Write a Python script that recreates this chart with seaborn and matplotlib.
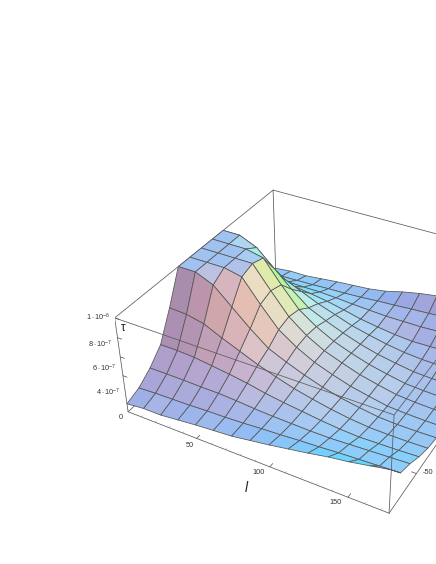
import numpy as np
import matplotlib
matplotlib.use("Agg")
import matplotlib.pyplot as plt
import seaborn as sns
from mpl_toolkits.mplot3d import proj3d

l_values = [0, 12.5, 25, 37.5, 50, 62.5, 75, 87.5, 100, 112.5, 125, 137.5, 150, 162.5, 175]
y_values = [-84, -72, -60, -48, -36, -24, -12, 0, 12, 24, 36, 48, 60, 72, 84]

# tau in units of 1e-7, rows follow l_values, columns y_values (clipped at the 1e-6 roof)
tau = [
    [0.9, 1.4, 2.4, 3.8, 6.7, 10, 10, 10, 10, 10, 6.7, 3.8, 2.4, 1.4, 0.9],
    [1.1, 1.5, 2.4, 3.8, 6.6, 10, 10, 10, 10, 10, 6.6, 3.8, 2.4, 1.5, 1.1],
    [1.1, 1.55, 2.4, 3.7, 6.2, 9.2, 10, 10, 10, 9.2, 6.2, 3.7, 2.4, 1.55, 1.1],
    [1.3, 1.6, 2.35, 3.45, 5.3, 7.5, 9.6, 10, 9.6, 7.5, 5.3, 3.45, 2.35, 1.6, 1.3],
    [1.5, 1.7, 2.35, 3.2, 4.5, 5.8, 7.3, 7.7, 7.3, 5.8, 4.5, 3.2, 2.35, 1.7, 1.5],
    [1.65, 1.75, 2.25, 2.9, 3.7, 4.3, 5.2, 5.5, 5.2, 4.3, 3.7, 2.9, 2.25, 1.75, 1.65],
    [1.8, 1.85, 2.1, 2.5, 3.05, 3.45, 3.9, 4.05, 3.9, 3.45, 3.05, 2.5, 2.1, 1.85, 1.8],
    [2.1, 2.0, 2.0, 2.2, 2.45, 2.7, 2.9, 3.0, 2.9, 2.7, 2.4, 2.05, 2.0, 2.0, 2.1],
    [2.4, 2.1, 1.95, 1.95, 2.0, 2.05, 2.2, 2.3, 2.2, 2.05, 1.95, 1.75, 1.9, 2.1, 2.6],
    [2.75, 2.25, 1.9, 1.7, 1.6, 1.55, 1.6, 1.65, 1.6, 1.55, 1.55, 1.5, 1.9, 2.25, 3.0],
    [3.1, 2.35, 1.9, 1.5, 1.3, 1.2, 1.18, 1.2, 1.18, 1.2, 1.25, 1.35, 1.9, 2.35, 3.3],
    [3.5, 2.5, 2.0, 1.4, 1.1, 0.9, 0.8, 0.8, 0.8, 0.9, 1.1, 1.4, 2.0, 2.5, 3.6],
    [3.8, 2.6, 2.1, 1.45, 1.05, 0.8, 0.68, 0.65, 0.68, 0.8, 1.05, 1.45, 2.1, 2.6, 3.8],
    [4.2, 2.7, 2.2, 1.5, 1.05, 0.8, 0.62, 0.58, 0.62, 0.8, 1.05, 1.5, 2.2, 2.7, 4.2],
    [4.6, 2.8, 2.3, 1.6, 1.1, 0.85, 0.62, 0.55, 0.62, 0.85, 1.1, 1.6, 2.3, 2.8, 4.6],
]

l_ticks = [50, 100, 150]
l_tick_at = [52, 99, 148]
l_minor = [10, 20, 30, 40, 60, 70, 80, 90, 110, 120, 130, 140, 160, 170]
z_ticks = [4, 6, 8, 10]
z_labels = [r"$\mathregular{4\cdot10^{-7}}$", r"$\mathregular{6\cdot10^{-7}}$",
            r"$\mathregular{8\cdot10^{-7}}$", r"$\mathregular{1\cdot10^{-6}}$"]
z_label_xy = [(121, 392), (117, 368), (113, 344), (111, 317)]

sns.set_theme(style="white")
plt.rcParams["font.family"] = ["Liberation Sans", "DejaVu Sans"]
plt.rcParams["mathtext.fontset"] = "custom"
plt.rcParams["mathtext.rm"] = "Liberation Sans"
plt.rcParams["mathtext.it"] = "Liberation Sans:italic"

W, H = 436, 564
ELEV, AZIM = 35.875, -61.163
ASPECT = (1.0108, 1, 0.3998)

fig = plt.figure(figsize=(W / 100, H / 100), dpi=100)
ax = fig.add_axes([115.37 / W, 22.48 / H, 406.78 / W, 406.78 / H], projection="3d", computed_zorder=False)
ax.view_init(elev=ELEV, azim=AZIM)
ax.set_proj_type("persp", focal_length=0.4767)
ax.set_box_aspect(ASPECT)
ax.set_axis_off()

x0, x1 = l_values[0], l_values[-1]
y0, y1 = y_values[0], y_values[-1]
ax.set_xlim(x0, x1)
ax.set_ylim(y0, y1)
ax.set_zlim(0, 10)

X, Y = np.meshgrid(l_values, y_values, indexing="ij")
Z = np.array(tau)

# coloured lights fitted by eye, evaluated per cell in view coordinates
sx = ASPECT[0] / (x1 - x0)
sy = ASPECT[1] / (y1 - y0)
sz = ASPECT[2] / 10
d1 = np.stack([(X[1:, 1:] - X[:-1, :-1]) * sx, (Y[1:, 1:] - Y[:-1, :-1]) * sy, (Z[1:, 1:] - Z[:-1, :-1]) * sz], -1)
d2 = np.stack([(X[1:, :-1] - X[:-1, 1:]) * sx, (Y[1:, :-1] - Y[:-1, 1:]) * sy, (Z[1:, :-1] - Z[:-1, 1:]) * sz], -1)
n = np.cross(d2, d1)
n = n * np.sign(n[..., 2:3])
n = n / np.linalg.norm(n, axis=-1, keepdims=True)
el, az = np.radians(ELEV), np.radians(AZIM)
right = np.array([-np.sin(az), np.cos(az), 0])
up = np.array([-np.sin(el) * np.cos(az), -np.sin(el) * np.sin(az), np.cos(el)])
toward = np.array([np.cos(el) * np.cos(az), np.cos(el) * np.sin(az), np.sin(el)])
nx, ny, nz = n @ right, n @ up, n @ toward
red = 0.446 + 0.31 * nx - 0.05 * ny + 0.38 * nz - 0.2 * np.clip(0.35 - nz, 0, 1)
green = 0.69 + 0.28 * nx + 0.10 * ny - 0.02 * nz
blue = 0.70 + 0.30 * ny - 6 * np.clip(nx - 0.6, 0, 1) ** 2
colors = np.clip(np.stack([red, green, blue], -1), 0, 1)

line_kw = dict(color="#5a5a5a", lw=0.55)


def label3d(x, y, z, s, **kw):
    # 2D text placed at a projected 3D point
    px, py, _ = proj3d.proj_transform(x, y, z, ax.get_proj())
    ax.text2D(px, py, s, transform=ax.transData, ha="center", va="center", zorder=4, **kw)


# box edges behind the surface
for p, q in [((x0, y1, 10), (x1, y1, 10)), ((x0, y0, 10), (x0, y1, 10)), ((x0, y1, 0), (x0, y1, 10)),
             ((x0, y0, 0), (x0, y1, 0)), ((x1, y0, 0), (x1, y1, 0))]:
    ax.plot(*zip(p, q), zorder=1, **line_kw)

ax.plot_surface(X, Y, Z, rstride=1, cstride=1, facecolors=colors, shade=False,
                edgecolor="#555555", linewidth=0.55, zorder=2)

# box edges in front of it
for p, q in [((x0, y0, 0), (x1, y0, 0)), ((x0, y0, 0), (x0, y0, 10)), ((x0, y0, 10), (x1, y0, 10)),
             ((x1, y0, 0), (x1, y0, 10)), ((x1, y0, 10), (x1, y1, 10))]:
    ax.plot(*zip(p, q), zorder=3, **line_kw)

for t, at in zip(l_ticks, l_tick_at):
    ax.plot([t, t], [y0, y0 + 3], [0, 0], zorder=3, **line_kw)
    label3d(at - 2, y0 - 7, 0, str(t), fontsize=5.3, color="#333333")
for t in l_minor:
    ax.plot([t, t], [y0, y0 + 1.2], [0, 0], zorder=3, color="#888888", lw=0.3)
for t in z_ticks:
    ax.plot([x0, x0 + 3], [y0, y0], [t, t], zorder=3, **line_kw)

ax.plot([x1, x1 - 3], [-50, -50], [0, 0], zorder=3, **line_kw)
label3d(x1 + 7, -50, 0.6, "-50", fontsize=5.3, color="#333333")
label3d(x0 - 1, y0 - 6, 0, "0", fontsize=5.3, color="#333333")
for (px, py), s in zip(z_label_xy, z_labels):
    fig.text(px / W, 1 - py / H, s, fontsize=5.3, ha="right", va="center", color="#333333")

label3d(97, y0 - 20, 0, "l", fontsize=10, style="italic", color="#222222")
label3d(x0, y0 + 6, 8.4, "\u03c4", fontsize=8.5, color="#222222")

fig.savefig("out.png", dpi=100)
